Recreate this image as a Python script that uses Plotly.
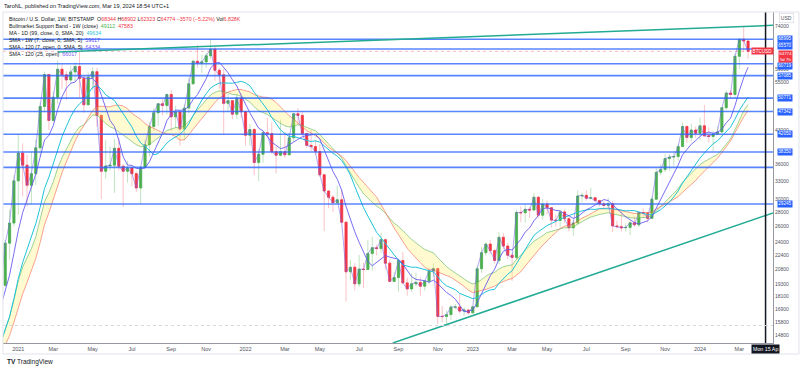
import numpy as np
import pandas as pd
import plotly.graph_objects as go

# ---------------- DATA (weekly BTCUSD, Bitstamp) ----------------
first_week = "2020-07-27"

opens_2020 = [9930, 11070, 11680, 11850, 11660, 11700, 10280, 10330, 10930, 10770, 10670, 11380,
              11500, 13030, 13740, 15480, 15960, 18400, 18180, 19360, 19150, 23860, 26490]
highs_2020 = [12100, 12050, 12100, 12480, 11800, 12080, 10600, 11100, 10980, 10950, 11480, 11720,
              13350, 14100, 15960, 16480, 18800, 19400, 19900, 19400, 24280, 28400, 34000]
lows_2020 = [9900, 11000, 11150, 11370, 11140, 9900, 9880, 10250, 10150, 10400, 10530, 11200,
             11420, 12950, 13200, 14850, 15800, 16200, 18100, 17650, 19000, 21900, 26000]
closes_2020 = [11070, 11680, 11850, 11660, 11700, 10280, 10330, 10930, 10770, 10670, 11380, 11500,
               13030, 13740, 15480, 15960, 18400, 18180, 19360, 19150, 23860, 26490, 33000]

opens_2021 = [33000, 38150, 35800, 32250, 34250, 39200, 48600, 57400, 45200, 51000, 59000, 57300,
              55800, 58200, 59850, 56200, 49050, 56600, 58250, 46400, 34700, 35650, 35800, 39100,
              35600, 34700, 35300, 34250, 31800, 35400, 39850, 43800, 47050, 49300, 48850, 51750,
              46050, 47250, 43200, 48200, 54700, 61500, 60900, 61300, 63300, 65500, 58700, 57300,
              49400, 50100, 46700, 50800]
highs_2021 = [41950, 40100, 37800, 38500, 40900, 49700, 58300, 57500, 52600, 61800, 60600, 58400,
              60000, 61200, 64850, 57000, 58000, 59600, 59500, 46600, 40800, 39450, 41050, 41300,
              36000, 36600, 35400, 34650, 35500, 40900, 44800, 48150, 49400, 50500, 51900, 52900,
              48800, 47350, 49200, 56500, 62000, 67000, 63700, 64300, 69000, 66400, 59400, 59100,
              51950, 50200, 51900, 52100]
lows_2021 = [27700, 30400, 28850, 29200, 32300, 37400, 47100, 43000, 44950, 49300, 53300, 50300,
             54800, 55450, 51000, 47000, 48800, 53000, 43800, 30000, 33400, 34800, 31000, 34800,
             28800, 32700, 32100, 31100, 29300, 35300, 37500, 42800, 43950, 46400, 46600, 42800,
             43400, 39600, 40800, 46900, 54400, 59500, 58000, 59400, 62300, 55600, 53300, 42000,
             47300, 45500, 45600, 45700]
closes_2021 = [38150, 35800, 32250, 34250, 39200, 48600, 57400, 45200, 51000, 59000, 57300, 55800,
               58200, 59850, 56200, 49050, 56600, 58250, 46400, 34700, 35650, 35800, 39100, 35600,
               34700, 35300, 34250, 31800, 35400, 39850, 43800, 47050, 49300, 48850, 51750, 46050,
               47250, 43200, 48200, 54700, 61500, 60900, 61300, 63300, 65500, 58700, 57300, 49400,
               50100, 46700, 50800, 47300]

opens_2022 = [47300, 41850, 43100, 36300, 37900, 42400, 42200, 38400, 37700, 38400, 37800, 41300,
              46800, 46400, 42200, 39700, 39450, 38450, 34050, 31300, 30300, 29450, 29900, 26600,
              20550, 21050, 19300, 20850, 20800, 22600, 23300, 23200, 24300, 21500, 19550, 19950,
              21800, 19400, 18800, 19300, 19450, 19070, 19570, 20630, 20900, 16300, 16280, 16450,
              17100, 17120, 16750, 16840]
highs_2022 = [47500, 44400, 43500, 38900, 42600, 45800, 44750, 39500, 45400, 42600, 42300, 46900,
              48200, 47200, 42400, 42950, 40800, 40000, 34250, 31400, 30650, 32250, 31550, 26800,
              21900, 21500, 22450, 21550, 24250, 24650, 23650, 25200, 24450, 21900, 20550, 21850,
              22800, 19950, 20400, 20450, 19950, 19700, 21000, 21450, 21000, 17200, 16800, 17300,
              17400, 18350, 17050, 16950]
lows_2022 = [39650, 39600, 34000, 32950, 36300, 41700, 38000, 34300, 37450, 37200, 37600, 40500,
             44200, 42000, 39200, 38550, 37700, 33700, 25400, 28650, 28050, 29300, 26550, 17600,
             19650, 18650, 19000, 18900, 20750, 20700, 22400, 22700, 20800, 19500, 19500, 18550,
             19350, 18150, 18500, 19050, 18150, 18650, 19250, 20050, 15650, 15800, 15450, 16000,
             16900, 16550, 16350, 16450]
closes_2022 = [41850, 43100, 36300, 37900, 42400, 42200, 38400, 37700, 38400, 37800, 41300, 46800,
               46400, 42200, 39700, 39450, 38450, 34050, 31300, 30300, 29450, 29900, 26600, 20550,
               21050, 19300, 20850, 20800, 22600, 23300, 23200, 24300, 21500, 19550, 19950, 21800,
               19400, 18800, 19300, 19450, 19070, 19570, 20630, 20900, 16300, 16280, 16450, 17100,
               17120, 16750, 16840, 16600]

opens_2023 = [16600, 17130, 20880, 22700, 23750, 22950, 21800, 24600, 23500, 22400, 22150, 28000,
              27950, 28450, 28350, 30300, 27600, 29250, 28700, 26900, 26850, 28070, 27100, 25850,
              26500, 30500, 30600, 30150, 30230, 29800, 29270, 29050, 29300, 26100, 26000, 25850,
              25900, 26530, 26250, 27970, 27930, 27150, 29990, 34500, 35000, 37050, 37350, 37450,
              39450, 43800, 41350, 43000]
highs_2023 = [17200, 21250, 23350, 23950, 24250, 23150, 25250, 25150, 23900, 22600, 28400, 28900,
              29200, 28800, 30950, 30500, 30000, 29800, 28800, 27650, 28200, 28450, 27400, 26800,
              31400, 31000, 31400, 31800, 30350, 29900, 29700, 30200, 29700, 26800, 28150, 26450,
              26850, 27450, 28050, 28600, 27950, 30350, 35200, 35950, 37950, 38000, 38400, 40000,
              44700, 44000, 44400, 43800]
lows_2023 = [16550, 17100, 20450, 22350, 22550, 21450, 21400, 23100, 21950, 19600, 21900, 26600,
             26550, 27200, 28200, 27200, 26950, 27700, 25900, 26000, 25900, 26550, 25350, 24800,
             26250, 29500, 29750, 29950, 29500, 28900, 28600, 28700, 25300, 25800, 25350, 25350,
             24900, 26000, 25950, 27200, 26550, 27100, 29950, 33950, 34550, 34800, 35700, 36700,
             39350, 40200, 40550, 41300]
closes_2023 = [17130, 20880, 22700, 23750, 22950, 21800, 24600, 23500, 22400, 22150, 28000, 27950,
               28450, 28350, 30300, 27600, 29250, 28700, 26900, 26850, 28070, 27100, 25850, 26500,
               30500, 30600, 30150, 30230, 29800, 29270, 29050, 29300, 26100, 26000, 25850, 25900,
               26530, 26250, 27970, 27930, 27150, 29990, 34500, 35000, 37050, 37350, 37450, 39450,
               43800, 41350, 43000, 42280]

opens_2024 = [42280, 43950, 41730, 41580, 42120, 42580, 48300, 52140, 51730, 63100, 68960, 68344]
highs_2024 = [45900, 49000, 43550, 42850, 43850, 48550, 52800, 52950, 64000, 69200, 73800, 68902]
lows_2024 = [40750, 41500, 40300, 38500, 41850, 42300, 47700, 50600, 50900, 59000, 64500, 62323]
closes_2024 = [43950, 41730, 41580, 42120, 42580, 48300, 52140, 51730, 63100, 68960, 68344, 64774]

# horizontal levels (drawings) and trend line anchors
levels = [68995, 65570, 60719, 57085, 50771, 47342, 42050, 38350, 35400, 29245]
level_badges = [68995, 65570, 60719, 57085, 50771, 47342, 42050, 38350, 29245]
last_price = 64774
upper_trend_dates = ["2021-03-08", "2024-04-27"]
upper_trend_prices = [64550, 74160]
lower_trend_dates = ["2022-08-27", "2024-04-27"]
lower_trend_prices = [14190, 27920]

# axis ticks (labels hidden behind price badges are left out)
y_ticks = [14800, 15800, 16900, 18100, 19300, 20800, 22400, 24000, 26000, 28000, 30000, 33000,
           36000, 43000, 55000, 59000, 74000]
x_tick_dates = ["2021-01-04", "2021-03-01", "2021-05-03", "2021-07-05", "2021-09-06", "2021-11-01",
                "2022-01-03", "2022-03-07", "2022-05-02", "2022-07-04", "2022-09-05", "2022-11-07",
                "2023-01-02", "2023-03-06", "2023-05-01", "2023-07-03", "2023-09-04", "2023-11-06",
                "2024-01-01", "2024-03-04"]
x_tick_labels = ["2021", "Mar", "May", "Jul", "Sep", "Nov", "2022", "Mar", "May", "Jul", "Sep", "Nov",
                 "2023", "Mar", "May", "Jul", "Sep", "Nov", "2024", "Mar"]
crosshair_date = "2024-04-15"

# legend values shown in the header
ohlc_now = [68344, 68902, 62323, 64774]
band_values = [49112, 47583]
ma99_value = 49634
sma7w_value = 59617
sma120_values = [64334, 66017]

# ---------------- BUILD ----------------
opens = opens_2020 + opens_2021 + opens_2022 + opens_2023 + opens_2024
highs = highs_2020 + highs_2021 + highs_2022 + highs_2023 + highs_2024
lows = lows_2020 + lows_2021 + lows_2022 + lows_2023 + lows_2024
closes = closes_2020 + closes_2021 + closes_2022 + closes_2023 + closes_2024
assert len(opens) == len(highs) == len(lows) == len(closes)
dates = pd.date_range(first_week, periods=len(closes), freq="7D")

cs = pd.Series(closes, index=dates, dtype=float)
sma20 = cs.rolling(20).mean()
ema21 = cs.ewm(span=21, adjust=False).mean()
ma99d = cs.rolling(14).mean()
sma7 = cs.rolling(7).mean()

body_hi = np.maximum(opens, closes)
body_lo = np.minimum(opens, closes)

GREEN = "#4caf50"
RED = "#f23645"
BLUE = "rgba(41,98,255,0.78)"
TEAL = "#22ab94"
VIOLET = "rgba(98,84,240,0.85)"

X0, X1 = "2020-12-10 12:00", "2024-04-26 22:00"
Y0, Y1 = 14186, 79490

fig = go.Figure()

# candle wicks (pale)
fig.add_trace(go.Candlestick(
    x=dates, open=opens, high=highs, low=lows, close=closes,
    increasing=dict(line=dict(color="rgba(76,175,80,0.35)", width=1), fillcolor="rgba(76,175,80,0.35)"),
    decreasing=dict(line=dict(color="rgba(242,54,69,0.3)", width=1), fillcolor="rgba(242,54,69,0.3)"),
    whiskerwidth=0, hoverinfo="skip"))
# candle bodies (solid)
fig.add_trace(go.Candlestick(
    x=dates, open=opens, high=body_hi, low=body_lo, close=closes,
    increasing=dict(line=dict(color=GREEN, width=0.6), fillcolor=GREEN),
    decreasing=dict(line=dict(color=RED, width=0.6), fillcolor=RED),
    whiskerwidth=0, hoverinfo="skip"))

# bull market support band
fig.add_trace(go.Scatter(x=dates, y=ema21, mode="lines",
                         line=dict(color="rgba(76,175,80,0.55)", width=1), hoverinfo="skip"))
fig.add_trace(go.Scatter(x=dates, y=sma20, mode="lines", fill="tonexty",
                         fillcolor="rgba(255,235,80,0.27)",
                         line=dict(color="rgba(244,67,54,0.5)", width=1), hoverinfo="skip"))
# MA 99D
fig.add_trace(go.Scatter(x=dates, y=ma99d, mode="lines",
                         line=dict(color="#1fc3d9", width=1), hoverinfo="skip"))
# SMA 7W
fig.add_trace(go.Scatter(x=dates, y=sma7, mode="lines",
                         line=dict(color=VIOLET, width=1), hoverinfo="skip"))
# SMA 120 (intrabar) — follows weekly closes
fig.add_trace(go.Scatter(x=dates, y=closes, mode="lines",
                         line=dict(color="rgba(120,100,235,0.7)", width=0.8), hoverinfo="skip"))

# horizontal levels
for lv in levels:
    fig.add_trace(go.Scatter(x=[X0, X1], y=[lv, lv], mode="lines",
                             line=dict(color=BLUE, width=1.6), hoverinfo="skip"))
# last price line
fig.add_trace(go.Scatter(x=[X0, X1], y=[last_price, last_price], mode="lines",
                         line=dict(color="rgba(242,54,69,0.35)", width=1, dash="dot"), hoverinfo="skip"))
# trend lines
fig.add_trace(go.Scatter(x=upper_trend_dates, y=upper_trend_prices, mode="lines",
                         line=dict(color=TEAL, width=1.5), hoverinfo="skip"))
fig.add_trace(go.Scatter(x=lower_trend_dates, y=lower_trend_prices, mode="lines",
                         line=dict(color=TEAL, width=1.5), hoverinfo="skip"))

# ---------------- LAYOUT ----------------
L, T, W, H = 3, 12, 770, 331


def px(xp):
    return (xp - L) / W


def py(yp):
    return 1 - (yp - T) / H


FONT = "Liberation Sans, Arial, sans-serif"

fig.update_layout(
    width=800, height=370,
    margin=dict(l=L, r=800 - L - W, t=T, b=370 - T - H),
    paper_bgcolor="white", plot_bgcolor="white",
    showlegend=False, boxgap=0.3,
    font=dict(family=FONT, size=5, color="#131722"),
    xaxis=dict(type="date", range=[X0, X1], rangeslider=dict(visible=False),
               showgrid=False, zeroline=False, tickmode="array",
               tickvals=x_tick_dates, ticktext=x_tick_labels,
               tickfont=dict(size=5.5, color="#50535e", family=FONT),
               showline=True, linecolor="#9598a1", linewidth=1, ticks=""),
    yaxis=dict(type="log", range=[np.log10(Y0), np.log10(Y1)], side="right",
               showgrid=False, zeroline=False, tickmode="array",
               tickvals=y_ticks, ticktext=[str(v) for v in y_ticks],
               tickfont=dict(size=5, color="#50535e", family=FONT),
               showline=True, linecolor="#9598a1", linewidth=1, ticks=""),
)

shapes = [
    dict(type="line", xref="x", yref="paper", x0=crosshair_date, x1=crosshair_date, y0=0, y1=1,
         line=dict(color="#131722", width=1.5)),
    dict(type="line", xref="paper", yref="paper", x0=0, x1=1, y0=py(325.5), y1=py(325.5),
         line=dict(color="#d6d8de", width=1, dash="dot")),
    dict(type="rect", xref="paper", yref="paper", x0=0, x1=px(799), y0=py(354), y1=1,
         line=dict(color="#e0e3eb", width=1)),
]
fig.update_layout(shapes=shapes)

ann = []
# header
ann.append(dict(text="TaroNL, published on TradingView.com, Mar 19, 2024 18:54 UTC+1",
                xref="paper", yref="paper", x=px(2), y=py(6), xanchor="left", yanchor="middle",
                showarrow=False, font=dict(size=5.5, color="#131722", family=FONT)))
R = RED
o, h, l, c = ohlc_now
chg = c - o
pct = chg / o * 100
rows = [
    f"Bitcoin / U.S. Dollar, 1W, BITSTAMP  O<span style='color:{R}'>{o}</span> "
    f"H<span style='color:{R}'>{h}</span> L<span style='color:{R}'>{l}</span> "
    f"C<span style='color:{R}'>{c}</span> <span style='color:{R}'>−{abs(chg)} (−{abs(pct):.2f}%)</span> "
    f"Vol<span style='color:{R}'>6.828K</span>",
    f"Bullmarket Support Band - 1W (close)  <span style='color:{GREEN}'>{band_values[0]}</span>  "
    f"<span style='color:{R}'>{band_values[1]}</span>",
    f"MA - 1D (99, close, 0, SMA, 20)  <span style='color:#1fc3d9'>{ma99_value}</span>",
    f"SMA - 1W (7, close, 0, SMA, 5)  <span style='color:#5a4cf0'>{sma7w_value}</span>",
    f"SMA - 120 (7, open, 0, SMA, 5)  <span style='color:#7a5cf0'>{sma120_values[0]}</span>",
    f"SMA - 120 (25, open)  <span style='color:#7a5cf0'>{sma120_values[1]}</span>",
]
row_y = [19, 26, 33, 40, 47, 54]
for t, yy in zip(rows, row_y):
    ann.append(dict(text=t, xref="paper", yref="paper", x=px(7), y=py(yy), xanchor="left",
                    yanchor="middle", showarrow=False, font=dict(size=5.3, color="#131722", family=FONT)))

# price badges on right axis
shift = {65570: 3.2, 60719: -1.8}
for lv in level_badges:
    ann.append(dict(text=str(lv), xref="paper", yref="y", x=px(785), y=np.log10(lv),
                    xanchor="center", yanchor="middle", yshift=shift.get(lv, 0), showarrow=False,
                    bgcolor="#2962ff", borderpad=0.3,
                    font=dict(size=4.6, color="white", family=FONT)))
ann.append(dict(text=f"{last_price}<br>5d 7h", xref="paper", yref="y", x=px(785),
                y=np.log10(last_price), xanchor="center", yanchor="top", yshift=1.6, showarrow=False,
                bgcolor=RED, borderpad=0.3, align="center",
                font=dict(size=4.4, color="white", family=FONT)))
ann.append(dict(text="BTCUSD", xref="paper", yref="y", x=px(762), y=np.log10(last_price),
                xanchor="center", yanchor="middle", showarrow=False, bgcolor=RED, borderpad=0.6,
                font=dict(size=4.6, color="white", family=FONT)))
ann.append(dict(text="USD", xref="paper", yref="paper", x=px(786), y=py(18), xanchor="center",
                yanchor="middle", showarrow=False, bgcolor="white", bordercolor="#d1d4dc",
                borderwidth=0.6, borderpad=1.2, font=dict(size=5, color="#50535e", family=FONT)))
# crosshair time label
ann.append(dict(text="Mon 15 Ap", xref="x", yref="paper", x=crosshair_date, y=py(348.5),
                xanchor="center", yanchor="middle", showarrow=False, bgcolor="#131722",
                borderpad=1, font=dict(size=5.3, color="white", family=FONT)))
# footer logo
ann.append(dict(text="<b>TV</b> TradingView", xref="paper", yref="paper", x=px(5), y=py(362),
                xanchor="left", yanchor="middle", showarrow=False,
                font=dict(size=6.5, color="#131722", family=FONT)))
fig.update_layout(annotations=ann)

fig.write_html("out.html", config={"displayModeBar": False},
               post_script="document.body.style.margin='0px';document.body.style.overflow='hidden';")
